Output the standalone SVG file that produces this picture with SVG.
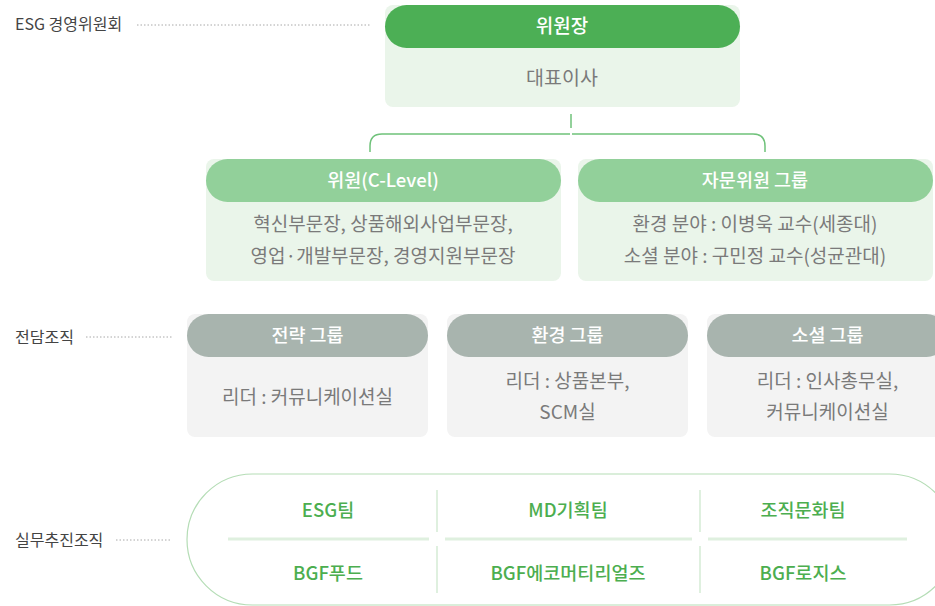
<svg xmlns="http://www.w3.org/2000/svg" width="935" height="606" viewBox="0 0 935 606">
<style>
.lbl{font-family:"Noto Sans CJK KR","Noto Sans",sans-serif;font-size:16px;fill:#444;}
.dot{stroke:#a8a8a8;stroke-width:1;stroke-dasharray:1.5 2;fill:none;}
.hdrT{font-family:"Noto Sans CJK KR","Noto Sans",sans-serif;font-size:18.5px;font-weight:500;fill:#fff;text-anchor:middle;}
.body{font-family:"Noto Sans CJK KR","Noto Sans",sans-serif;font-size:19px;fill:#7a7a7a;text-anchor:middle;}
.team{font-family:"Noto Sans CJK KR","Noto Sans",sans-serif;font-size:18.5px;font-weight:500;fill:#4cae4f;text-anchor:middle;}
.gbody{fill:#eaf5ea;}
.ggbody{fill:#f3f3f3;}
.div{stroke:#dff0df;stroke-width:3;}
.vdiv{stroke:#dff0df;stroke-width:2;}
</style>
<g id="labels">
<text class="lbl" x="15" y="30">ESG 경영위원회</text>
<line class="dot" x1="137" y1="25" x2="370" y2="25"/>
<text class="lbl" x="15" y="343">전담조직</text>
<line class="dot" x1="86" y1="337" x2="172" y2="337"/>
<text class="lbl" x="15" y="546">실무추진조직</text>
<line class="dot" x1="116" y1="540" x2="172" y2="540"/>
</g>
<g id="connectors" fill="none" stroke="#6fc27a" stroke-width="1.5">
<path d="M571,114 V128"/>
<path d="M370,152 V146 Q370,134 382,134 H570"/>
<path d="M572,134 H753 Q765,134 765,146 V152"/>
</g>
<g id="chair">
<rect class="gbody" x="385" y="5" width="355" height="102" rx="8"/>
<rect x="385" y="5" width="355" height="43" rx="21.5" fill="#4caf55"/>
<text class="hdrT" x="562" y="33" style="font-size:19px">위원장</text>
<text class="body" x="562" y="85" style="font-size:19.5px">대표이사</text>
</g>
<g id="clevel">
<rect class="gbody" x="206" y="159" width="355" height="122" rx="8"/>
<rect x="206" y="159" width="355" height="43" rx="21.5" fill="#92d09a"/>
<text class="hdrT" x="383" y="187">위원(C-Level)</text>
<text class="body" x="383" y="231">혁신부문장, 상품해외사업부문장,</text>
<text class="body" x="383" y="263">영업·개발부문장, 경영지원부문장</text>
</g>
<g id="advisory">
<rect class="gbody" x="578" y="159" width="355" height="122" rx="8"/>
<rect x="578" y="159" width="355" height="43" rx="21.5" fill="#92d09a"/>
<text class="hdrT" x="755" y="187">자문위원 그룹</text>
<text class="body" x="755" y="231">환경 분야 : 이병욱 교수(세종대)</text>
<text class="body" x="755" y="263">소셜 분야 : 구민정 교수(성균관대)</text>
</g>
<g id="strategy">
<rect class="ggbody" x="187" y="314" width="241" height="123" rx="8"/>
<rect x="187" y="314" width="241" height="43" rx="21.5" fill="#a8b4ae"/>
<text class="hdrT" x="307.5" y="342">전략 그룹</text>
<text class="body" x="307.5" y="404">리더 : 커뮤니케이션실</text>
</g>
<g id="environment">
<rect class="ggbody" x="447" y="314" width="241" height="123" rx="8"/>
<rect x="447" y="314" width="241" height="43" rx="21.5" fill="#a8b4ae"/>
<text class="hdrT" x="567.5" y="342">환경 그룹</text>
<text class="body" x="567.5" y="388">리더 : 상품본부,</text>
<text class="body" x="567.5" y="419">SCM실</text>
</g>
<g id="social">
<rect class="ggbody" x="707" y="314" width="241" height="123" rx="8"/>
<rect x="707" y="314" width="241" height="43" rx="21.5" fill="#a8b4ae"/>
<text class="hdrT" x="827.5" y="342">소셜 그룹</text>
<text class="body" x="827.5" y="388">리더 : 인사총무실,</text>
<text class="body" x="827.5" y="419">커뮤니케이션실</text>
</g>
<g id="working">
<rect x="187" y="474" width="768" height="131" rx="65.5" fill="#fff" stroke="#b5ddb6" stroke-width="1.2"/>
<line class="div" x1="228" y1="539" x2="429" y2="539"/>
<line class="div" x1="445" y1="539" x2="692" y2="539"/>
<line class="div" x1="708" y1="539" x2="907" y2="539"/>
<line class="vdiv" x1="437" y1="490" x2="437" y2="532"/>
<line class="vdiv" x1="437" y1="546" x2="437" y2="593"/>
<line class="vdiv" x1="700" y1="490" x2="700" y2="532"/>
<line class="vdiv" x1="700" y1="546" x2="700" y2="593"/>
<text class="team" x="328" y="517">ESG팀</text>
<text class="team" x="568" y="517">MD기획팀</text>
<text class="team" x="803" y="517">조직문화팀</text>
<text class="team" x="328" y="580">BGF푸드</text>
<text class="team" x="568" y="580">BGF에코머티리얼즈</text>
<text class="team" x="803" y="580">BGF로지스</text>
</g>
</svg>
